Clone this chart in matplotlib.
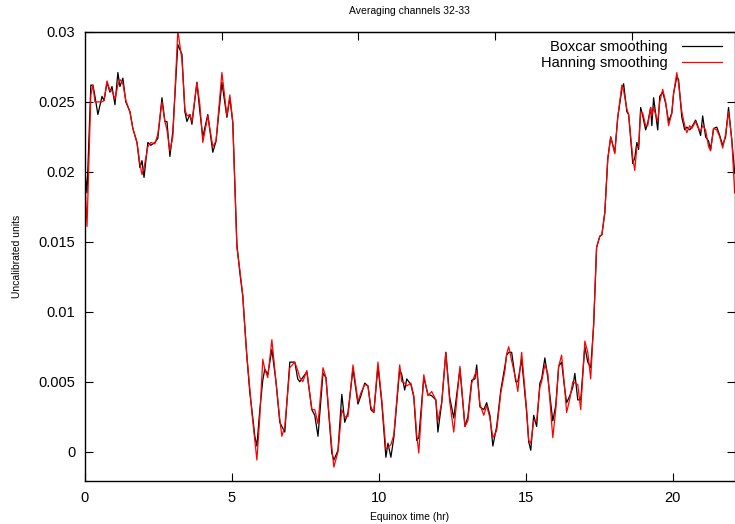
import numpy as np
from matplotlib import pyplot as plt
from matplotlib.ticker import FuncFormatter

plt.rcParams['font.family'] = ['Liberation Sans', 'DejaVu Sans']

# Values
hours = [0.00, 0.07, 0.20, 0.27, 0.34, 0.44, 0.58, 0.65, 0.75, 0.85,
         0.92, 1.02, 1.12, 1.19, 1.29, 1.39, 1.53, 1.63, 1.77, 1.87,
         1.94, 2.01, 2.14, 2.24, 2.38, 2.48, 2.62, 2.72, 2.79, 2.89,
         2.99, 3.16, 3.30, 3.40, 3.47, 3.57, 3.64, 3.81, 3.91, 4.01,
         4.18, 4.35, 4.46, 4.66, 4.83, 4.93, 5.03, 5.17, 5.27, 5.37,
         5.44, 5.51, 5.61, 5.68, 5.78, 5.85, 5.95, 6.05, 6.12, 6.22,
         6.36, 6.50, 6.63, 6.70, 6.80, 6.97, 7.14, 7.24, 7.31, 7.41,
         7.55, 7.72, 7.82, 7.93, 8.10, 8.20, 8.40, 8.47, 8.61, 8.74,
         8.84, 8.95, 9.12, 9.29, 9.39, 9.52, 9.63, 9.73, 9.83, 9.97,
         10.10, 10.24, 10.31, 10.41, 10.51, 10.71, 10.78, 10.88, 10.95, 11.09,
         11.19, 11.29, 11.36, 11.53, 11.67, 11.80, 11.94, 12.01, 12.14, 12.28,
         12.41, 12.55, 12.76, 12.93, 13.03, 13.16, 13.27, 13.33, 13.44, 13.57,
         13.67, 13.78, 13.88, 14.01, 14.15, 14.29, 14.35, 14.42, 14.52, 14.66,
         14.73, 14.86, 15.03, 15.10, 15.17, 15.27, 15.37, 15.48, 15.54, 15.65,
         15.75, 15.92, 16.02, 16.12, 16.22, 16.33, 16.39, 16.50, 16.60, 16.67,
         16.77, 16.87, 17.01, 17.11, 17.21, 17.31, 17.41, 17.52, 17.59, 17.69,
         17.79, 17.89, 18.03, 18.13, 18.27, 18.33, 18.44, 18.50, 18.64, 18.71,
         18.78, 18.84, 18.91, 18.98, 19.08, 19.15, 19.25, 19.29, 19.35, 19.49,
         19.56, 19.66, 19.76, 19.86, 19.97, 20.03, 20.14, 20.20, 20.31, 20.41,
         20.48, 20.58, 20.65, 20.78, 20.85, 20.95, 21.02, 21.12, 21.22, 21.29,
         21.39, 21.50, 21.60, 21.70, 21.80, 21.90, 22.01, 22.11]

boxcar = [0.0201, 0.0185, 0.0262, 0.0262, 0.0254, 0.0241, 0.0254, 0.0251, 0.0264, 0.0257,
          0.0261, 0.0248, 0.0271, 0.0261, 0.0267, 0.0250, 0.0243, 0.0231, 0.0221, 0.0203,
          0.0208, 0.0196, 0.0221, 0.0219, 0.0221, 0.0224, 0.0253, 0.0236, 0.0236, 0.0211,
          0.0229, 0.0291, 0.0284, 0.0243, 0.0236, 0.0241, 0.0234, 0.0264, 0.0243, 0.0225,
          0.0241, 0.0214, 0.0222, 0.0264, 0.0239, 0.0253, 0.0235, 0.0148, 0.0128, 0.0111,
          0.0090, 0.0068, 0.0042, 0.0030, 0.0011, 0.0004, 0.0030, 0.0051, 0.0059, 0.0055,
          0.0073, 0.0050, 0.0021, 0.0018, 0.0014, 0.0064, 0.0064, 0.0052, 0.0050, 0.0053,
          0.0057, 0.0030, 0.0026, 0.0011, 0.0056, 0.0053, -0.0001, -0.0006, 0.0001, 0.0041,
          0.0021, 0.0028, 0.0059, 0.0034, 0.0040, 0.0049, 0.0047, 0.0030, 0.0028, 0.0061,
          0.0035, -0.0004, 0.0006, -0.0004, 0.0010, 0.0059, 0.0055, 0.0044, 0.0052, 0.0048,
          0.0039, 0.0008, 0.0010, 0.0053, 0.0041, 0.0040, 0.0037, 0.0014, 0.0035, 0.0071,
          0.0039, 0.0024, 0.0059, 0.0018, 0.0025, 0.0051, 0.0052, 0.0062, 0.0032, 0.0030,
          0.0035, 0.0026, 0.0004, 0.0018, 0.0044, 0.0061, 0.0069, 0.0071, 0.0071, 0.0050,
          0.0050, 0.0066, 0.0028, 0.0007, 0.0001, 0.0026, 0.0018, 0.0049, 0.0052, 0.0067,
          0.0053, 0.0022, 0.0033, 0.0061, 0.0064, 0.0044, 0.0035, 0.0040, 0.0046, 0.0056,
          0.0037, 0.0037, 0.0075, 0.0064, 0.0060, 0.0090, 0.0146, 0.0154, 0.0155, 0.0171,
          0.0209, 0.0225, 0.0214, 0.0239, 0.0259, 0.0263, 0.0243, 0.0241, 0.0206, 0.0210,
          0.0221, 0.0216, 0.0246, 0.0240, 0.0230, 0.0235, 0.0246, 0.0233, 0.0253, 0.0230,
          0.0254, 0.0257, 0.0249, 0.0236, 0.0242, 0.0256, 0.0268, 0.0266, 0.0239, 0.0230,
          0.0232, 0.0230, 0.0232, 0.0237, 0.0233, 0.0226, 0.0240, 0.0225, 0.0222, 0.0216,
          0.0231, 0.0232, 0.0226, 0.0219, 0.0225, 0.0246, 0.0223, 0.0199]

hanning = [0.0194, 0.0161, 0.0255, 0.0262, 0.0250, 0.0250, 0.0250, 0.0251, 0.0265, 0.0258,
           0.0258, 0.0252, 0.0262, 0.0266, 0.0263, 0.0251, 0.0243, 0.0231, 0.0221, 0.0206,
           0.0198, 0.0203, 0.0218, 0.0221, 0.0220, 0.0227, 0.0250, 0.0236, 0.0230, 0.0215,
           0.0225, 0.0301, 0.0280, 0.0245, 0.0240, 0.0241, 0.0236, 0.0264, 0.0248, 0.0221,
           0.0240, 0.0218, 0.0222, 0.0271, 0.0240, 0.0255, 0.0236, 0.0146, 0.0130, 0.0112,
           0.0088, 0.0068, 0.0045, 0.0028, 0.0008, -0.0006, 0.0025, 0.0066, 0.0059, 0.0053,
           0.0080, 0.0050, 0.0023, 0.0011, 0.0018, 0.0060, 0.0064, 0.0058, 0.0053, 0.0050,
           0.0058, 0.0030, 0.0030, 0.0020, 0.0060, 0.0053, 0.0003, -0.0011, 0.0000, 0.0030,
           0.0025, 0.0025, 0.0062, 0.0036, 0.0042, 0.0048, 0.0047, 0.0032, 0.0028, 0.0064,
           0.0037, 0.0002, 0.0003, 0.0005, 0.0012, 0.0062, 0.0050, 0.0049, 0.0047, 0.0049,
           0.0040, 0.0012, -0.0001, 0.0055, 0.0040, 0.0043, 0.0037, 0.0022, 0.0035, 0.0071,
           0.0036, 0.0014, 0.0061, 0.0018, 0.0022, 0.0049, 0.0055, 0.0058, 0.0034, 0.0026,
           0.0033, 0.0024, 0.0010, 0.0015, 0.0042, 0.0058, 0.0070, 0.0075, 0.0065, 0.0052,
           0.0043, 0.0071, 0.0030, 0.0008, 0.0006, 0.0022, 0.0022, 0.0046, 0.0050, 0.0062,
           0.0056, 0.0010, 0.0030, 0.0061, 0.0069, 0.0044, 0.0028, 0.0038, 0.0050, 0.0049,
           0.0048, 0.0030, 0.0079, 0.0071, 0.0052, 0.0092, 0.0146, 0.0154, 0.0155, 0.0171,
           0.0209, 0.0225, 0.0213, 0.0239, 0.0262, 0.0258, 0.0245, 0.0241, 0.0210, 0.0201,
           0.0218, 0.0218, 0.0243, 0.0242, 0.0233, 0.0233, 0.0246, 0.0240, 0.0246, 0.0236,
           0.0250, 0.0259, 0.0250, 0.0233, 0.0242, 0.0256, 0.0271, 0.0263, 0.0243, 0.0233,
           0.0228, 0.0233, 0.0231, 0.0236, 0.0232, 0.0229, 0.0233, 0.0230, 0.0218, 0.0215,
           0.0231, 0.0230, 0.0225, 0.0217, 0.0227, 0.0243, 0.0223, 0.0185]

x_ticks = [0, 5, 10, 15, 20]
y_ticks = [0, 0.005, 0.01, 0.015, 0.02, 0.025, 0.03]

fig = plt.figure(figsize=(7.35, 5.24), dpi=100)
ax = fig.add_axes([0.1156, 0.082, 0.884, 0.857])

ax.plot(hours, boxcar, color='black', lw=0.9, label='Boxcar smoothing')
ax.plot(hours, hanning, color='red', lw=0.9, label='Hanning smoothing')

ax.set_xlim(0, 22.11)
ax.set_ylim(-0.0021, 0.03)
ax.set_xticks(x_ticks)
ax.set_yticks(y_ticks)
ax.yaxis.set_major_formatter(FuncFormatter(lambda v, p: '%g' % v))
ax.tick_params(direction='in', length=6, width=0.8, labelsize=10.5, pad=7,
               right=True)

# top axis has its own unlabelled ticks
top = ax.secondary_xaxis('top')
top.set_xticks([4.65, 9.3, 13.95, 18.6])
top.tick_params(direction='in', length=6, width=0.8, labeltop=False)

for s in ax.spines.values():
    s.set_linewidth(1.0)

ax.set_xlabel('Equinox time (hr)', fontsize=7.5, labelpad=5)
ax.set_ylabel('Uncalibrated units', fontsize=7.5, labelpad=12)
ax.set_title('Averaging channels 32-33', fontsize=7.5, pad=13)

ax.legend(loc='upper right', bbox_to_anchor=(0.991, 0.999), frameon=False,
          markerfirst=False, fontsize=10.5, handlelength=2.7,
          handletextpad=1.0, labelspacing=0.15, borderpad=0)

fig.savefig('out.png', dpi=100)
